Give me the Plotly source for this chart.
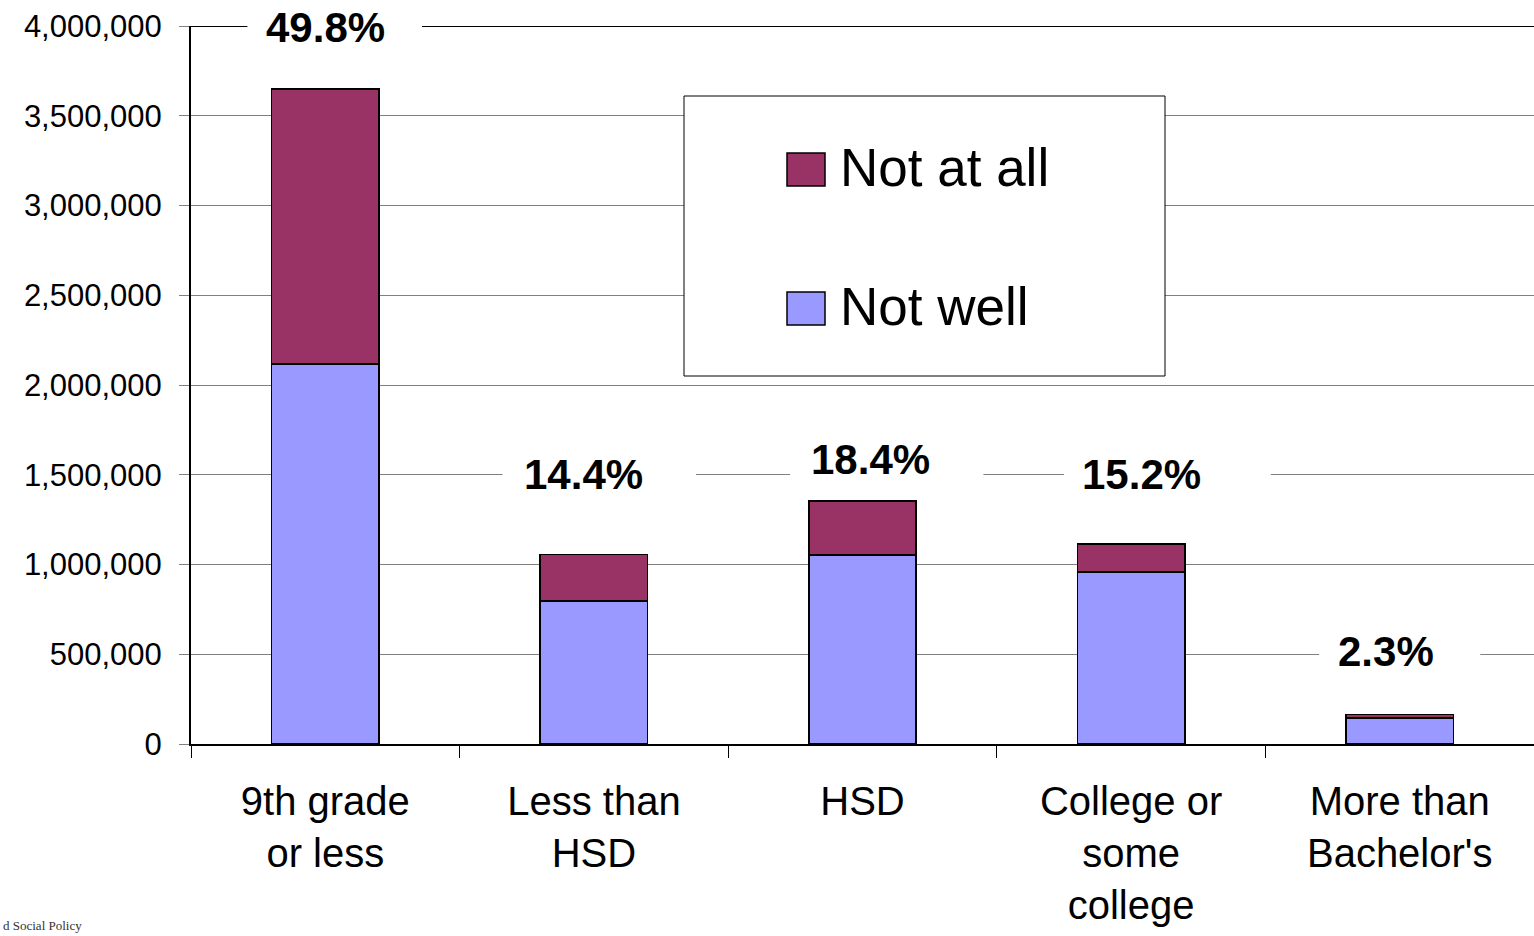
import plotly.graph_objects as go

# Education level of adults who speak English "not well" or "not at all"
categories = ["9th grade<br>or less", "Less than<br>HSD", "HSD",
              "College or<br>some<br>college", "More than<br>Bachelor's"]
not_well = [2116000, 796000, 1052000, 959000, 146000]
not_at_all = [1534000, 260000, 303000, 156000, 19000]
share_labels = ["49.8%", "14.4%", "18.4%", "15.2%", "2.3%"]

series_names = ["Not at all", "Not well"]
series_colors = {"Not at all": "#993366", "Not well": "#9999FF"}

y_ticks = [0, 500000, 1000000, 1500000, 2000000, 2500000, 3000000, 3500000, 4000000]

FONT = "Liberation Sans, Arial, sans-serif"

fig = go.Figure()
fig.add_trace(go.Bar(
    x=categories, y=not_well, name="Not well", width=0.4,
    marker=dict(color=series_colors["Not well"], line=dict(color="#000000", width=1.5)),
    showlegend=False,
))
fig.add_trace(go.Bar(
    x=categories, y=not_at_all, name="Not at all", width=0.4,
    marker=dict(color=series_colors["Not at all"], line=dict(color="#000000", width=1.5)),
    showlegend=False,
))

# Share labels: (horizontal nudge in category units, vertical position, white backing box)
label_layout = [
    (0.00, 3990000, (-0.29, 0.36), (3860000, 4200000)),
    (-0.04, 1504000, (0.66, 1.38), (1380000, 1620000)),
    (0.03, 1587000, (1.73, 2.45), (1450000, 1720000)),
    (0.04, 1504000, (2.75, 3.52), (1380000, 1620000)),
    (-0.05, 518000, (3.70, 4.30), (400000, 640000)),
]

shapes = [
    # dark top rule at the upper limit of the value axis
    dict(type="line", xref="x", yref="y", x0=-0.5, x1=4.5, y0=4000000, y1=4000000,
         line=dict(color="#000000", width=2), layer="between"),
]
annotations = []
for i, (lab, (dx, ly, (bx0, bx1), (by0, by1))) in enumerate(zip(share_labels, label_layout)):
    shapes.append(dict(type="rect", xref="x", yref="y", x0=bx0, x1=bx1, y0=by0, y1=by1,
                       fillcolor="#FFFFFF", line=dict(width=0), layer="between"))
    annotations.append(dict(x=i + dx, y=ly, xref="x", yref="y", text="<b>" + lab + "</b>",
                            showarrow=False, xanchor="center", yanchor="middle",
                            font=dict(family=FONT, size=42, color="#000000")))

# Legend panel
def px_x(p):
    return (p - 191) / 1343.0

def px_y(p):
    return (744 - p) / 718.0

shapes.append(dict(type="rect", xref="paper", yref="paper",
                   x0=px_x(684), x1=px_x(1165), y0=px_y(376), y1=px_y(96),
                   fillcolor="#FFFFFF", line=dict(color="#000000", width=1), layer="above"))
legend_rows = [(series_names[0], 153, 186, 167), (series_names[1], 292, 325, 306)]
for name, top, bottom, mid in legend_rows:
    shapes.append(dict(type="rect", xref="paper", yref="paper",
                       x0=px_x(787), x1=px_x(825), y0=px_y(bottom), y1=px_y(top),
                       fillcolor=series_colors[name], line=dict(color="#000000", width=1.5),
                       layer="above"))
    annotations.append(dict(x=px_x(838), y=px_y(mid), xref="paper", yref="paper",
                            text=name, showarrow=False, xanchor="left", yanchor="middle",
                            font=dict(family=FONT, size=53, color="#000000")))

# Source credit in the lower-left corner
annotations.append(dict(x=px_x(1), y=px_y(925), xref="paper", yref="paper",
                        text="d Social Policy", showarrow=False, xanchor="left",
                        yanchor="middle",
                        font=dict(family="Liberation Serif, Times New Roman, serif",
                                  size=13, color="#333333")))

fig.update_layout(
    barmode="stack",
    width=1534, height=936,
    margin=dict(l=191, r=0, t=26, b=192, autoexpand=False),
    paper_bgcolor="#FFFFFF", plot_bgcolor="#FFFFFF",
    shapes=shapes, annotations=annotations,
    showlegend=False,
    font=dict(family=FONT, color="#000000"),
)
fig.update_xaxes(
    type="category", automargin=False,
    range=[-0.5, 4.5],
    tickson="boundaries", ticks="outside", ticklen=12, tickwidth=1, tickcolor="#000000",
    showline=True, linecolor="#000000", linewidth=2,
    showgrid=False, zeroline=False,
    tickfont=dict(family=FONT, size=40, color="#000000"),
    ticklabelstandoff=21,
)
fig.update_yaxes(
    automargin=False,
    range=[0, 4000000],
    tickmode="array", tickvals=y_ticks,
    ticktext=[f"{v:,}" for v in y_ticks],
    ticks="outside", ticklen=10, tickwidth=1, tickcolor="#808080",
    showline=True, linecolor="#000000", linewidth=2,
    showgrid=True, gridcolor="#808080", gridwidth=1,
    zeroline=False,
    tickfont=dict(family=FONT, size=31, color="#000000"),
    ticklabelstandoff=11,
)

fig.write_html("out.html")
